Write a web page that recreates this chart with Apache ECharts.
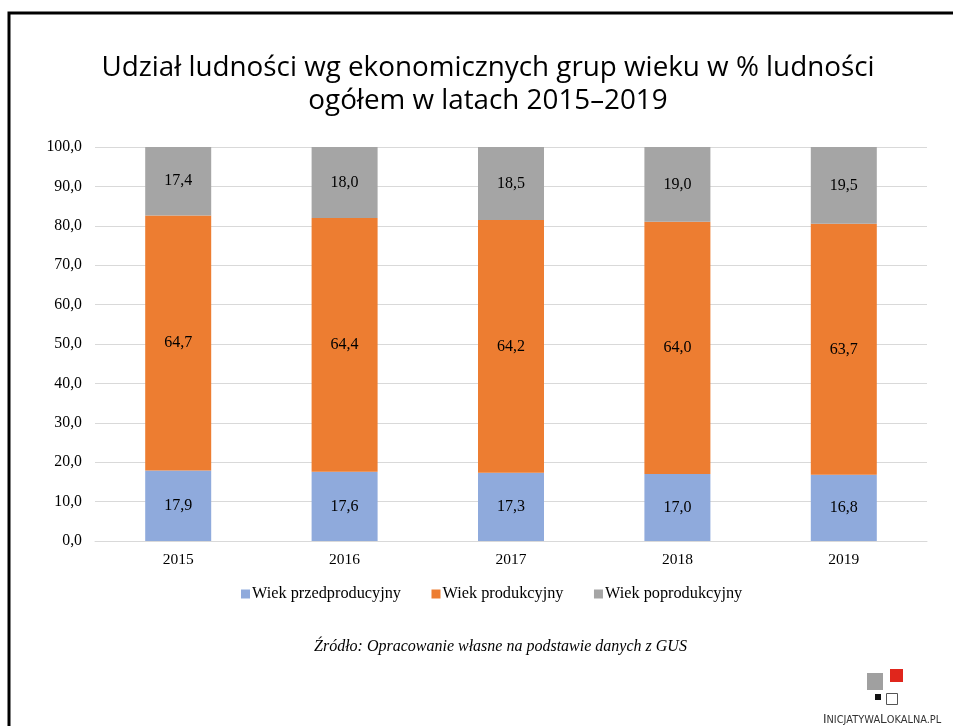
<!DOCTYPE html>
<html>
<head>
<meta charset="utf-8">
<script src="https://cdn.jsdelivr.net/npm/echarts@6/dist/echarts.min.js"></script>
<style>
  html, body { margin: 0; padding: 0; background: #fff; }
  #main { width: 953px; height: 726px; }
</style>
</head>
<body>
<div id="main"></div>
<script>
var years = ['2015', '2016', '2017', '2018', '2019'];
var przedprodukcyjny = [17.9, 17.6, 17.3, 17.0, 16.8];
var produkcyjny = [64.7, 64.4, 64.2, 64.0, 63.7];
var poprodukcyjny = [17.4, 18.0, 18.5, 19.0, 19.5];
var seriesNames = ['Wiek przedproducyjny', 'Wiek produkcyjny', 'Wiek poprodukcyjny'];

var colors = ['#8faadc', '#ed7d31', '#a5a5a5'];
var serif = '"Liberation Serif", "Times New Roman", serif';

function comma(v) {
    return v.toFixed(1).replace('.', ',');
}

function barSeries(name, data, color) {
    return {
        name: name,
        type: 'bar',
        stack: 'total',
        barWidth: 66,
        data: data,
        itemStyle: {color: color},
        label: {
            show: true,
            position: 'inside',
            color: '#000',
            fontFamily: serif,
            fontSize: 16,
            formatter: function (p) { return comma(p.value); }
        }
    };
}

var chart = echarts.init(document.getElementById('main'));
chart.setOption({
    animation: false,
    color: colors,
    title: {
        text: 'Udział ludności wg ekonomicznych grup wieku w % ludności\nogółem w latach 2015–2019',
        left: 483,
        textAlign: 'center',
        top: 47,
        textStyle: {
            fontFamily: '"Open Sans", "Noto Sans", sans-serif',
            fontWeight: 'normal',
            fontSize: 27.8,
            lineHeight: 33,
            color: '#000'
        }
    },
    legend: {
        data: seriesNames,
        top: 581,
        left: 236,
        itemWidth: 9,
        itemHeight: 9,
        itemGap: 30.5,
        icon: 'rect',
        textStyle: {fontFamily: serif, fontSize: 16.3, color: '#000', padding: [0, 0, 0, -3]}
    },
    grid: {left: 95, right: 26, top: 147, bottom: 185},
    xAxis: {
        type: 'category',
        data: years,
        axisLine: {lineStyle: {color: '#d9d9d9'}},
        axisTick: {show: false},
        axisLabel: {fontFamily: serif, fontSize: 15.5, color: '#000', margin: 11}
    },
    yAxis: {
        type: 'value',
        min: 0,
        max: 100,
        interval: 10,
        splitLine: {lineStyle: {color: '#d9d9d9'}},
        axisLabel: {
            fontFamily: serif,
            fontSize: 15.8,
            color: '#000',
            margin: 13,
            formatter: function (v) { return comma(v); }
        }
    },
    series: [
        barSeries(seriesNames[0], przedprodukcyjny, colors[0]),
        barSeries(seriesNames[1], produkcyjny, colors[1]),
        barSeries(seriesNames[2], poprodukcyjny, colors[2])
    ],
    graphic: [
        {
            type: 'rect',
            shape: {x: 9, y: 13, width: 960, height: 730},
            style: {fill: 'none', stroke: '#000', lineWidth: 3},
            silent: true
        },
        {
            type: 'text',
            left: 314,
            top: 639,
            style: {
                text: 'Źródło: Opracowanie własne na podstawie danych z GUS',
                font: 'italic 16px ' + serif,
                fill: '#000'
            }
        },
        {
            type: 'group',
            x: 823,
            y: 668,
            children: [
                {type: 'rect', shape: {x: 44, y: 5, width: 16, height: 17}, style: {fill: '#a0a0a0'}},
                {type: 'rect', shape: {x: 67, y: 1, width: 13, height: 13}, style: {fill: '#e0261c'}},
                {type: 'rect', shape: {x: 52, y: 26, width: 6, height: 6}, style: {fill: '#111'}},
                {type: 'rect', shape: {x: 63.5, y: 25.5, width: 11, height: 11}, style: {fill: '#fff', stroke: '#555', lineWidth: 1}},
                {
                    type: 'text',
                    style: {
                        x: 0, y: 52,
                        text: '{b|I}{s|NICJATYWA}{b|L}{s|OKALNA.PL}',
                        rich: {
                            b: {fontSize: 12, fontFamily: '"DejaVu Sans", sans-serif', fill: '#333'},
                            s: {fontSize: 9.8, fontFamily: '"DejaVu Sans", sans-serif', fill: '#333'}
                        },
                        fill: '#333',
                        align: 'left',
                        verticalAlign: 'middle'
                    }
                }
            ]
        }
    ]
});
</script>
</body>
</html>
